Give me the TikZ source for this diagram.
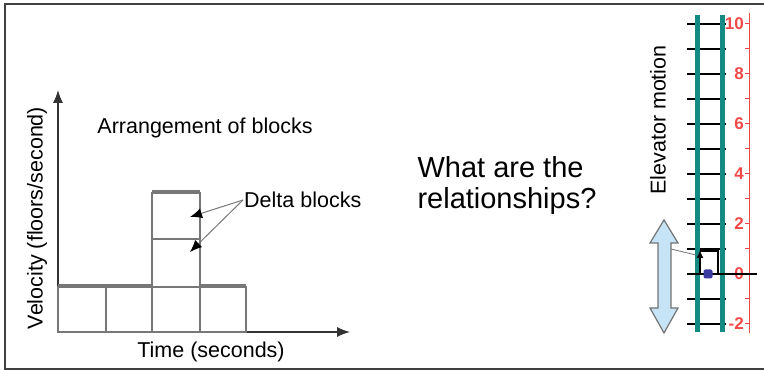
\documentclass[tikz,border=0pt]{standalone}
\usepackage{fontspec}
\setmainfont{Liberation Sans}
\usetikzlibrary{arrows.meta}
\definecolor{railteal}{HTML}{138A84}
\definecolor{scalered}{HTML}{F04848}
\definecolor{blockgray}{HTML}{777777}
\definecolor{motionblue}{HTML}{C6E4F5}
\definecolor{dotblue}{HTML}{3A3AA0}

\begin{document}
\begin{tikzpicture}[x=1pt,y=1pt,font=\fontsize{21.5}{24}\selectfont]
\useasboundingbox (0,0) rectangle (764,371);
\draw[line width=2pt,black!75] (764,367) -- (5,367) -- (5,2) -- (764,2);
% axes and blocks
\draw[line width=1.3pt,black!80,-{Latex[length=13pt,width=10pt]}] (58,39)--(58,281);
\draw[line width=1.3pt,black!80,-{Latex[length=13pt,width=10pt]}] (58,39)--(350,39);
\foreach \a/\b in {58/106,106/152,152/200,200/246}
  \draw[blockgray,line width=1.2pt] (\a,39) rectangle (\b,84);
\draw[blockgray,line width=1.2pt] (152,84) rectangle (200,132) (152,132) rectangle (200,178);
\draw[blockgray,line width=4pt] (58,85)--(152,85) (200,85)--(246,85) (152,179)--(200,179);
\node (arrange) at (205,243) {Arrangement of blocks};
\node[anchor=west,inner sep=1pt] (delta) at (243,171) {Delta blocks};
\coordinate (upper) at (190,154);\coordinate (lower) at (190,119);
\draw[blockgray,line width=1pt,-{Latex[length=12pt,width=10pt,color=black]}] (delta.west)--(upper);
\draw[blockgray,line width=1pt,-{Latex[length=12pt,width=10pt,color=black]}] (delta.west)--(lower);
\node[rotate=90] (velocity) at (37,153) {Velocity (floors/second)};
\node (time) at (211,19) {Time (seconds)};
\node[align=left,font=\fontsize{29}{31}\selectfont] (question) at (507,185) {What are the\\relationships?};
% elevator
\foreach \n in {-2,...,10} \draw[line width=1.2pt] (687,97+25*\n)--(726,97+25*\n);
\draw[railteal,line width=5pt] (697,39)--(697,356) (722,39)--(722,356);
\draw[scalered,line width=1pt] (749,38)--(749,358);
\foreach \n in {-2,...,10} \draw[scalered,line width=1pt] (745,97+25*\n)--(749,97+25*\n);
\foreach \n in {-2,0,...,10}
  \node[anchor=east,inner sep=0pt,text=scalered,font=\fontsize{17}{17}\selectfont\bfseries] (lab\n) at (744,97+25*\n) {\n};
\draw[line width=2.5pt] (687,97)--(757,97);
\fill[dotblue,rounded corners=2pt] (703.5,92.5) rectangle (712.5,101.5);
\draw[line width=2pt] (700,120)--(718,120)--(718,97);
\draw[line width=2pt,-{Latex[length=8pt,width=7pt]}] (700,97)--(700,121);
\filldraw[fill=motionblue,draw=black!55,line width=1.2pt] (664,151)--(678,128)--(671,128)--(671,63)--(678,63)--(664,38)--(650,63)--(658,63)--(658,128)--(650,128)--cycle;
\coordinate (motion) at (671,122);\coordinate (car) at (696,116);
\draw[black!55,line width=0.8pt] (motion)--(car);
\node[rotate=90] (elevator) at (658,251) {Elevator motion};
\end{tikzpicture}
\end{document}
